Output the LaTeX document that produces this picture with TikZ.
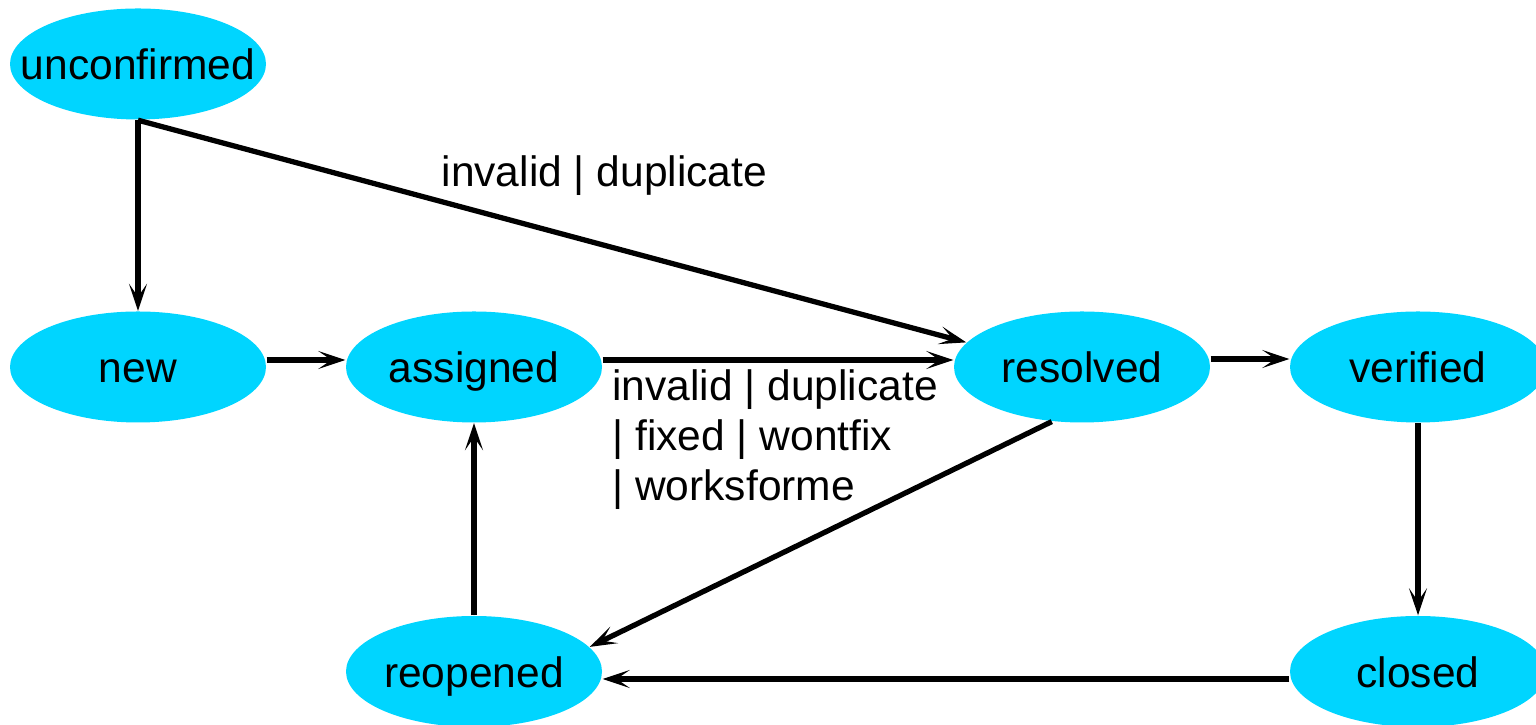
\documentclass[tikz,border=0pt]{standalone}
\usepackage{fontspec}
\setmainfont{Liberation Sans}
\usetikzlibrary{arrows.meta, shapes.geometric}
\definecolor{statecyan}{RGB}{0,213,255}

\begin{document}
\begin{tikzpicture}[
		every node/.style={font=\fontsize{12.1}{14.3}\selectfont},
		state/.style={ellipse, fill=statecyan, minimum width=2.56cm, minimum height=1.11cm,
			inner xsep=-0.3cm, inner ysep=0pt, text height=0.42cm, text depth=0.1cm},
		flow/.style={line width=1.5pt, -{Stealth[length=2.7mm, width=1.8mm, inset=1.3mm]}}
	]
  \useasboundingbox (0cm, 0cm) rectangle (15.36cm, 7.25cm);
  \node (unconfirmed) [state] at (1.38cm, 6.61cm) {unconfirmed};
  \node (new) [state] at (1.38cm, 3.58cm) {new};
  \node (assigned) [state] at (4.74cm, 3.58cm) {assigned};
  \node (resolved) [state] at (10.82cm, 3.58cm) {resolved};
  \node (verified) [state] at (14.18cm, 3.58cm) {verified};
  \node (reopened) [state] at (4.74cm, 0.535cm) {reopened};
  \node (closed) [state] at (14.18cm, 0.535cm) {closed};
  \draw [flow] (unconfirmed.south) -- (new.north);
  \draw [flow] (unconfirmed.south) -- node [pos=0.563, above=0.35cm] {invalid | duplicate} (resolved.168);
  \draw [flow] ([yshift=0.07cm]new.east) -- ([yshift=0.07cm]assigned.west);
  \draw [flow] ([yshift=0.07cm]assigned.east) --
    node [pos=0, anchor=north west, align=left, inner sep=0.07cm]
      {invalid | duplicate\\| fixed | wontfix\\| worksforme}
    ([yshift=0.07cm]resolved.west);
  \draw [flow] ([yshift=0.08cm]resolved.east) -- ([yshift=0.08cm]verified.west);
  \draw [flow] (verified.south) -- (closed.north);
  \draw [flow] (resolved.241) -- (reopened.12);
  \draw [flow] (reopened.north) -- (assigned.south);
  \draw [flow] ([yshift=-0.075cm]closed.west) -- ([yshift=-0.075cm]reopened.east);
\end{tikzpicture}
\end{document}
